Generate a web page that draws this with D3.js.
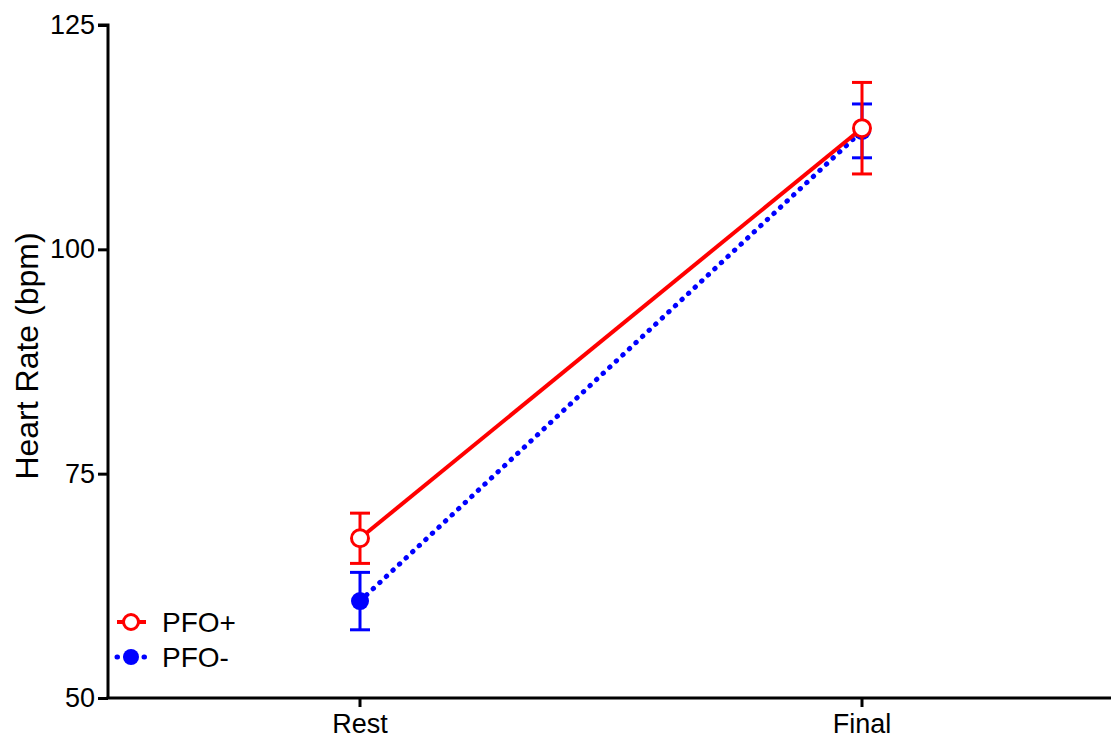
<!DOCTYPE html>
<html>
<head>
<meta charset="utf-8">
<script src="https://cdn.jsdelivr.net/npm/d3@7"></script>
<style>
  body { margin: 0; background: #fff; }
  svg text { font-family: "Liberation Sans", Arial, sans-serif; }
</style>
</head>
<body>
<div id="chart"></div>
<script>
const categories = ["Rest", "Final"];
const yTicks = [50, 75, 100, 125];

// PFO+ series
const pfoPlusMean = [67.8, 113.5];
const pfoPlusErr = [2.8, 5.1];
// PFO- series
const pfoMinusMean = [60.8, 113.2];
const pfoMinusErr = [3.2, 3.0];

const width = 1111, height = 745;
const margin = { left: 108, right: 0, top: 25, bottom: 47 };

const svg = d3.select("#chart").append("svg")
  .attr("width", width)
  .attr("height", height);

const x = d3.scalePoint()
  .domain(categories)
  .range([360, 862]);

const y = d3.scaleLinear()
  .domain([50, 125])
  .range([height - margin.bottom, margin.top]);

const series = [
  { name: "PFO+", mean: pfoPlusMean, err: pfoPlusErr, color: "#ff0000", filled: false, dash: null },
  { name: "PFO-", mean: pfoMinusMean, err: pfoMinusErr, color: "#0000ff", filled: true, dash: "0.5,8.5" }
];

// axes
const yAxis = d3.axisLeft(y).tickValues(yTicks).tickSize(10).tickPadding(3);
const gy = svg.append("g").attr("transform", `translate(${margin.left},0)`).call(yAxis);
gy.select(".domain").attr("stroke", "#000").attr("stroke-width", 3).attr("d", `M-10,${y(125)}H0V${y(50)}`);
gy.selectAll(".tick line").attr("stroke", "#000").attr("stroke-width", 3);
gy.selectAll(".tick text").style("font-size", "27px").attr("fill", "#000");

const gx = svg.append("g").attr("transform", `translate(0,${y(50)})`);
gx.append("line").attr("x1", margin.left - 1.5).attr("x2", width).attr("stroke", "#000").attr("stroke-width", 3);
gx.selectAll(".xt").data(categories).join("line")
  .attr("x1", d => x(d)).attr("x2", d => x(d))
  .attr("y1", 0).attr("y2", 9)
  .attr("stroke", "#000").attr("stroke-width", 3);
gx.selectAll(".xl").data(categories).join("text")
  .attr("x", d => x(d)).attr("y", 35)
  .attr("text-anchor", "middle")
  .style("font-size", "27px")
  .text(d => d);

svg.append("text")
  .attr("transform", `translate(38,356) rotate(-90)`)
  .attr("text-anchor", "middle")
  .style("font-size", "32px")
  .text("Heart Rate (bpm)");

const line = d3.line().x((d, i) => x(categories[i])).y(d => y(d));

// draw blue first, red on top
[series[1], series[0]].forEach(s => {
  const g = svg.append("g");
  g.append("path")
    .attr("d", line(s.mean))
    .attr("fill", "none")
    .attr("stroke", s.color)
    .attr("stroke-width", s.filled ? 5 : 4)
    .attr("stroke-dasharray", s.dash)
    .attr("stroke-linecap", s.filled ? "round" : "butt");

  s.mean.forEach((m, i) => {
    const cx = x(categories[i]);
    const top = y(m + s.err[i]), bot = y(m - s.err[i]);
    g.append("line").attr("x1", cx).attr("x2", cx).attr("y1", top).attr("y2", bot)
      .attr("stroke", s.color).attr("stroke-width", 3);
    [top, bot].forEach(v => g.append("line")
      .attr("x1", cx - 10).attr("x2", cx + 10).attr("y1", v).attr("y2", v)
      .attr("stroke", s.color).attr("stroke-width", 3));
    g.append("circle").attr("cx", cx).attr("cy", y(m))
      .attr("r", s.filled ? 9 : 8.5)
      .attr("fill", s.filled ? s.color : "#fff")
      .attr("stroke", s.color)
      .attr("stroke-width", s.filled ? 0 : 3);
  });
});

// legend
const legend = svg.append("g");
series.forEach((s, i) => {
  const ly = 622 + i * 35;
  legend.append("line").attr("x1", 117).attr("x2", 146).attr("y1", ly).attr("y2", ly)
    .attr("stroke", s.color).attr("stroke-width", s.filled ? 5 : 4)
    .attr("stroke-dasharray", s.dash).attr("stroke-linecap", s.filled ? "round" : "butt");
  legend.append("circle").attr("cx", 131).attr("cy", ly).attr("r", s.filled ? 8 : 7.5)
    .attr("fill", s.filled ? s.color : "#fff")
    .attr("stroke", s.color).attr("stroke-width", s.filled ? 0 : 3);
  legend.append("text").attr("x", 162).attr("y", ly + 10)
    .style("font-size", "28px").text(s.name);
});
</script>
</body>
</html>
